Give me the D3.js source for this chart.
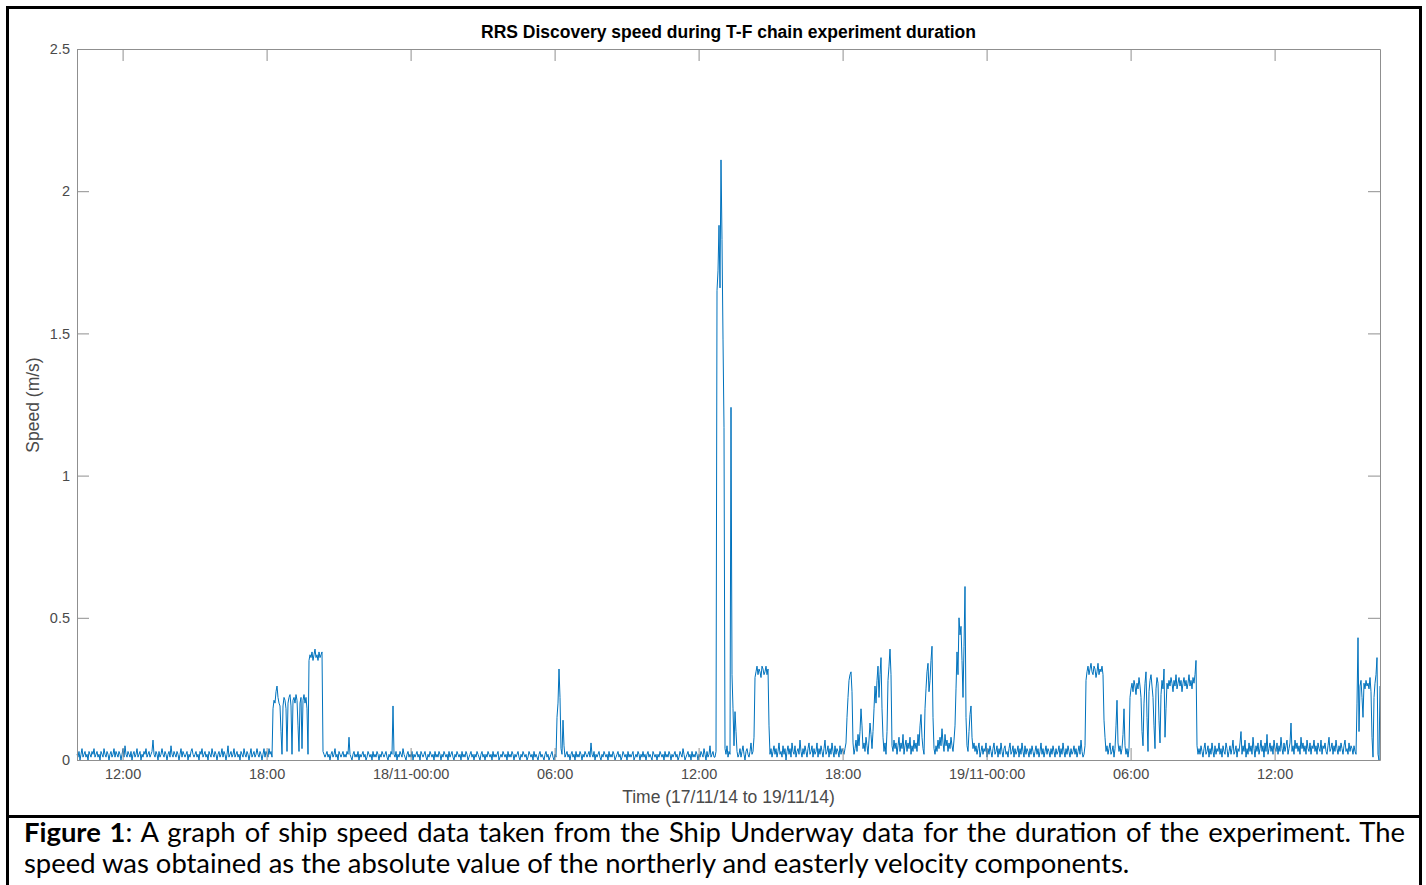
<!DOCTYPE html>
<html><head><meta charset="utf-8">
<script src="https://cdn.jsdelivr.net/npm/d3@7"></script>
<style>html,body{margin:0;padding:0;background:#fff;} svg{display:block;}</style>
</head><body>
<svg id="chart" width="1426" height="885"></svg>
<script>
// ---------- data ----------
const chartTitle = "RRS Discovery speed during T-F chain experiment duration";
const xAxisLabel = "Time (17/11/14 to 19/11/14)";
const yAxisLabel = "Speed (m/s)";
const startTime = new Date(2014, 10, 17, 10, 6);
const stepSeconds = 150; // 2.5-minute samples

// speed (m/s)
const speedA = [
.02,.01,.03,.00,.02,.04,.01,.02,.03,.01,.02,.00,.03,.02,.01,.03,.02,.04,.01,.02,
.03,.01,.02,.00,.03,.02,.01,.04,.02,.01,.03,.02,.00,.02,.03,.01,.02,.04,.01,.03,
.02,.01,.03,.02,.00,.02,.04,.01,.05,.02,.01,.03,.02,.01,.03,.00,.02,.03,.01,.02,
.04,.01,.02,.03,.00,.02,.01,.03,.02,.04,.01,.02,.03,.01,.02,.03,.07,.02,.01,.03,
.02,.00,.03,.01,.02,.04,.02,.01,.03,.02,.00,.02,.03,.01,.05,.02,.01,.03,.02,.01,
.03,.02,.00,.02,.04,.01,.03,.02,.01,.02,.03,.00,.02,.01,.03,.04,.02,.01,.02,.03,
.01,.02,.00,.03,.02,.04,.01,.02,.03,.01,.02,.00,.03,.02,.01,.04,.02,.01,.03,.02,
.00,.02,.03,.01,.02,.04,.01,.03,.02,.00,.02,.05,.01,.02,.03,.01,.02,.04,.01,.02,
.03,.01,.02,.00,.03,.02,.01,.04,.02,.01,.03,.02,.00,.02,.04,.01,.02,.03,.01,.02,
.04,.02,.01,.03,.02,.00,.02,.04,.01,.03,.02,.01,.04,.02,.03,.01];
const speedB = [
.18,.21,.20,.24,.26,.22,.20,.19,.10,.02,.19,.22,.21,.18,.03,.20,.22,.23,.19,.02,
.21,.22,.20,.23,.21,.12,.03,.20,.22,.04,.21,.23,.20,.22,.18,.02,
.35,.37,.36,.38,.35,.37,.39,.36,.37,.35,.38,.36,.37,.38,.03,.02];
const speedC = [
.01,.02,.03,.01,.02,.00,.02,.03,.01,.02,.04,.01,.02,.00,.03,.02,.01,.02,.03,.01,
.02,.01,.03,.02,.08,.02,.01,.00,.02,.03,.01,.02,.01,.03,.00,.02,.01,.02,.03,.01,
.02,.00,.01,.03,.02,.01,.02,.00,.03,.01,.02,.01,.03,.02,.00,.02,.01,.03,.02,.01,
.02,.03,.01,.00,.02,.01,.03,.02,.19,.02,.01,.03,.00,.02,.01,.03,.02,.01,.04,.02,
.01,.00,.02,.03,.01,.02,.01,.03,.00,.02,.01,.02,.03,.01,.02,.00,.03,.02,.01,.02,
.03,.01,.00,.02,.01,.03,.02,.01,.02,.00,.03,.01,.02,.01,.03,.02,.00,.02,.01,.03,
.02,.01,.02,.00,.03,.01,.02,.03,.01,.00,.02,.01,.03,.02,.01,.02,.00,.03,.01,.02,
.01,.03,.02,.00,.01,.02,.03,.01,.02,.00,.02,.01,.03,.02,.01,.00,.02,.03,.01,.02,
.00,.02,.01,.03,.02,.01,.02,.00,.03,.01,.02,.01,.02,.03,.00,.01,.02,.01,.03,.02,
.01,.02,.00,.03,.01,.02,.01,.03,.02,.00,.02,.01,.02,.03,.01,.00,.02,.01,.03,.02,
.01,.02,.00,.01,.03,.02,.01,.02,.00,.03,.01,.02,.01,.00,.02,.03,.01,.02,.01,.00,
.02,.03,.01,.02,.00,.01,.02,.03,.01,.00,.02,.01];
const speedD = [
.15,.20,.32,.22,.04,.02,.14,.05,.01,.02,.03,.01,.02,.00,.02,.03,.01,.02,.00,.03,
.01,.02,.01,.03,.02,.00,.02,.01,.03,.02,.01,.02,.03,.01,.06,.02,.01,.03,.00,.02,
.01,.02,.03,.01,.00,.02,.01,.03,.02,.01,.02,.00,.03,.01,.02,.01,.03,.02,.00,.01,
.02,.03,.01,.02,.00,.01,.03,.02,.01,.02,.00,.03,.01,.02,.01,.02,.03,.00,.01,.02,
.01,.03,.02,.00,.02,.01,.03,.01,.02,.00,.02,.03,.01,.02,.01,.00,.03,.02,.01,.02,
.00,.02,.01,.03,.02,.01,.02,.00,.03,.01,.02,.01,.03,.02,.00,.02,.01,.02,.03,.01,
.02,.00,.01,.03,.02,.01,.04,.02,.00,.01,.02,.03,.01,.02,.00,.03,.01,.02,.01,.03,
.02,.00,.02,.01,.03,.02,.01,.04,.02,.00,.03,.01,.02,.05,.01,.02,.03,.01];
const speedE = [
.01,.03,1.65,1.72,1.88,1.66,2.11,1.83,1.48,1.17,.04,.02,.05,.01,.03,.02,1.24,.30,.18,.05,
.17,.10,.03,.01,.02,.04,.01,.03,.05,.02,.00,.03,.04,.02,.01,.03,.06,.02];
const speedF = [.03,.08,.29,.31,.33,.30,.32,.31,.29,.33,.32,.30,.31,.33,.30,.32];
const speedG = [
.12,.02,.04,.01,.03,.05,.02,.04,.01,.03,.06,.02,.03,.01,.05,.02,.04,.00,.03,.05,
.02,.04,.01,.06,.03,.02,.05,.01,.03,.04,.02,.07,.03,.01,.04,.02,.05,.03,.01,.04,
.06,.02,.03,.05,.01,.04,.02,.03,.06,.01,.04,.02,.05,.03,.01,.04,.07,.02,.03,.05,
.01,.04,.02,.06,.03,.01,.05,.02,.04,.03,.01,.05,.02,.04,.03,.02];
const speedH = [
.04,.06,.15,.22,.28,.30,.31,.24,.06,.02,.04,.07,.03,.09,.05,.10,.18,.12,.04,.06,
.03,.08,.05,.02,.07,.13,.09,.04,.10,.18,.26,.20,.28,.33,.22,.30,.36,.18,.08,.03,
.06,.02,.10,.28,.33,.39,.30,.05,.03,.07,.04,.06,.02,.05,.08,.03,.06,.04,.09,.02,
.05,.07,.03,.06,.04,.08,.02,.05,.03,.07,.04,.06,.03,.09,.05,.12,.16,.08,.04,.02,
.18,.25,.31,.34,.24,.28,.35,.40,.15,.04,.02,.05,.03,.07,.04,.08,.05,.11,.06,.03,
.09,.05,.07,.03,.06,.04,.08,.05,.03,.07,.12,.25,.38,.30,.50,.44,.47,.35,.22,.40,
.61,.15,.05,.03,.10,.16,.19,.08,.04,.06];
const speedI = [
.03,.05,.02,.04,.06,.01,.03,.05,.02,.04,.03,.06,.01,.04,.02,.05,.03,.01,.04,.06,
.02,.03,.05,.01,.04,.02,.06,.03,.01,.04,.05,.02,.03,.01,.04,.06,.02,.03,.05,.01,
.04,.02,.03,.05,.01,.04,.02,.06,.03,.01,.05,.02,.04,.03,.01,.04,.02,.05,.03,.01,
.03,.05,.02,.04,.01,.03,.06,.02,.04,.01,.03,.05,.02,.04,.03,.01,.04,.02,.05,.03,
.01,.04,.02,.03,.05,.01,.04,.02,.06,.03,.01,.04,.02,.05,.03,.01,.04,.02,.03,.05,
.02,.04,.01,.03,.05,.02,.07,.03,.01,.02];
const speedJ = [
.05,.28,.31,.33,.30,.32,.34,.31,.30,.33,.32,.29,.31,.34,.30,.32,.31,.33,.30,.14,
.08,.03,.05,.02,.04,.06,.02,.03,.05,.01,.04,.12,.21,.06,.03,.05,.02,.04,.09,.18,
.05,.02,.04,.01];
const speedK = [
.04,.22,.25,.27,.24,.28,.26,.23,.27,.25,.29,.26,.22,.10,.05,.20,.27,.31,.15,.03,
.24,.28,.30,.26,.22,.12,.04,.25,.29,.27,.14,.06,.23,.28,.25,.32,.08,.18,.27,.25,
.28,.26,.29,.27,.24,.28,.26,.30,.25,.27,.29,.26,.28,.24,.27,.29,.26,.28,.25,.27,
.30,.26,.28,.25,.29,.27,.30,.35,.05,.02];
const speedL = [
.04,.02,.05,.03,.01,.04,.06,.02,.03,.05,.01,.04,.02,.06,.03,.01,.05,.02,.04,.03,
.06,.02,.04,.01,.05,.03,.02,.06,.04,.01,.03,.05,.02,.04,.07,.02,.03,.05,.01,.04,
.03,.06,.10,.02,.05,.03,.07,.01,.04,.02,.06,.03,.05,.02,.08,.04,.01,.05,.03,.06,
.02,.04,.07,.03,.05,.01,.06,.03,.09,.02,.04,.06,.03,.05,.02,.07,.04,.03,.06,.02,
.05,.03,.08,.04,.02,.06,.03,.05,.07,.02,.04,.06,.13,.03,.05,.02,.07,.04,.06,.03,
.05,.02,.08,.04,.06,.03,.05,.02,.07,.04,.03,.06,.02,.05,.04,.07,.03,.05,.02,.06,
.04,.03,.07,.02,.05,.04,.06,.03,.02,.05,.08,.03,.04,.06,.02,.05,.03,.07,.04,.02,
.05,.03,.06,.04,.02,.05,.07,.03,.04,.02,.06,.03,.05,.04,.02,.05,.03,.02];
const speedM = [
.20,.43,.10,.26,.28,.22,.15,.27,.25,.28,.26,.27,.25,.29,.24,.08,.01,.22,.27,.30,
.36,.02,.00,.26];

const xTickTimes = [
  new Date(2014,10,17,12), new Date(2014,10,17,18), new Date(2014,10,18,0),
  new Date(2014,10,18,6), new Date(2014,10,18,12), new Date(2014,10,18,18),
  new Date(2014,10,19,0), new Date(2014,10,19,6), new Date(2014,10,19,12)];
const xTickLabels = ["12:00","18:00","18/11-00:00","06:00","12:00","18:00","19/11-00:00","06:00","12:00"];
const yTicks = [0, 0.5, 1, 1.5, 2, 2.5];
const yTickLabels = ["0","0.5","1","1.5","2","2.5"];

const captionBold = "Figure 1";
const captionLine1 = ": A graph of ship speed data taken from the Ship Underway data for the duration of the experiment. The";
const captionLine2 = "speed was obtained as the absolute value of the northerly and easterly velocity components.";

// ---------- build ----------
const speed = [].concat(speedA, speedB, speedC, speedD, speedE, speedF, speedG,
                        speedH, speedI, speedJ, speedK, speedL, speedM);
const series = speed.map((v, i) => ({t: d3.timeSecond.offset(startTime, i * stepSeconds), v}));

const svg = d3.select("#chart");
const L = 77, R = 1380, T = 49, B = 760;
const axisColor = "#8f8f8f", labelColor = "#4a4a4a";
const sans = "'Liberation Sans', Arial, Helvetica, sans-serif";

const x = d3.scaleTime().domain(d3.extent(series, d => d.t)).range([L, R]);
const y = d3.scaleLinear().domain([0, 2.5]).range([B, T]);

// data line
svg.append("path")
  .datum(series)
  .attr("fill", "none")
  .attr("stroke", "#0072BD")
  .attr("stroke-width", 1)
  .attr("stroke-linejoin", "round")
  .attr("d", d3.line().x(d => x(d.t)).y(d => y(d.v)));

function styleAxis(g) {
  g.selectAll("path.domain").attr("stroke", axisColor).attr("stroke-width", 1);
  g.selectAll(".tick line").attr("stroke", axisColor).attr("stroke-width", 1);
  g.selectAll(".tick text").attr("fill", labelColor).attr("font-family", sans).attr("font-size", 14.5);
}

svg.append("g").attr("transform", `translate(0,${B})`)
  .call(d3.axisBottom(x).tickValues(xTickTimes).tickFormat((d, i) => xTickLabels[i])
        .tickSizeInner(-12).tickSizeOuter(0).tickPadding(9))
  .call(styleAxis);
svg.append("g").attr("transform", `translate(0,${T})`)
  .call(d3.axisTop(x).tickValues(xTickTimes).tickFormat("").tickSizeInner(-12).tickSizeOuter(0))
  .call(styleAxis);
svg.append("g").attr("transform", `translate(${L},0)`)
  .call(d3.axisLeft(y).tickValues(yTicks).tickFormat((d, i) => yTickLabels[i])
        .tickSizeInner(-12).tickSizeOuter(0).tickPadding(7))
  .call(styleAxis);
svg.append("g").attr("transform", `translate(${R},0)`)
  .call(d3.axisRight(y).tickValues(yTicks).tickFormat("").tickSizeInner(-12).tickSizeOuter(0))
  .call(styleAxis);

// title & axis labels
svg.append("text").attr("x", (L + R) / 2).attr("y", 38)
  .attr("text-anchor", "middle").attr("font-family", sans).attr("font-weight", "bold")
  .attr("font-size", 17.5).attr("fill", "#000").text(chartTitle);
svg.append("text").attr("x", (L + R) / 2).attr("y", 803)
  .attr("text-anchor", "middle").attr("font-family", sans)
  .attr("font-size", 17.5).attr("fill", labelColor).text(xAxisLabel);
svg.append("text").attr("transform", "translate(39,405) rotate(-90)")
  .attr("text-anchor", "middle").attr("font-family", sans)
  .attr("font-size", 17.5).attr("fill", labelColor).text(yAxisLabel);

// frame
svg.append("rect").attr("x", 7.5).attr("y", 7.5).attr("width", 1413).attr("height", 900)
  .attr("fill", "none").attr("stroke", "#000").attr("stroke-width", 3);
svg.append("line").attr("x1", 7.5).attr("x2", 1420.5).attr("y1", 816.5).attr("y2", 816.5)
  .attr("stroke", "#000").attr("stroke-width", 3);

// caption
const capFont = "Lato, 'Open Sans', sans-serif";
const capX = 24, capRight = 1405;
const l2 = svg.append("text").attr("x", capX).attr("y", 873)
  .attr("font-family", capFont).attr("font-size", 20).attr("fill", "#000").text(captionLine2);
const fs = 20 * 1106 / l2.node().getComputedTextLength();
l2.attr("font-size", fs);
const l1 = svg.append("text").attr("x", capX).attr("y", 842)
  .attr("font-family", capFont).attr("font-size", fs).attr("fill", "#000");
l1.append("tspan").attr("font-weight", "bold").text(captionBold);
l1.append("tspan").text(captionLine1);
const w1 = l1.node().getComputedTextLength();
const nSpaces = (captionBold + captionLine1).split(" ").length - 1;
l1.attr("word-spacing", ((capRight - capX) - w1) / nSpaces);
</script>
</body></html>
